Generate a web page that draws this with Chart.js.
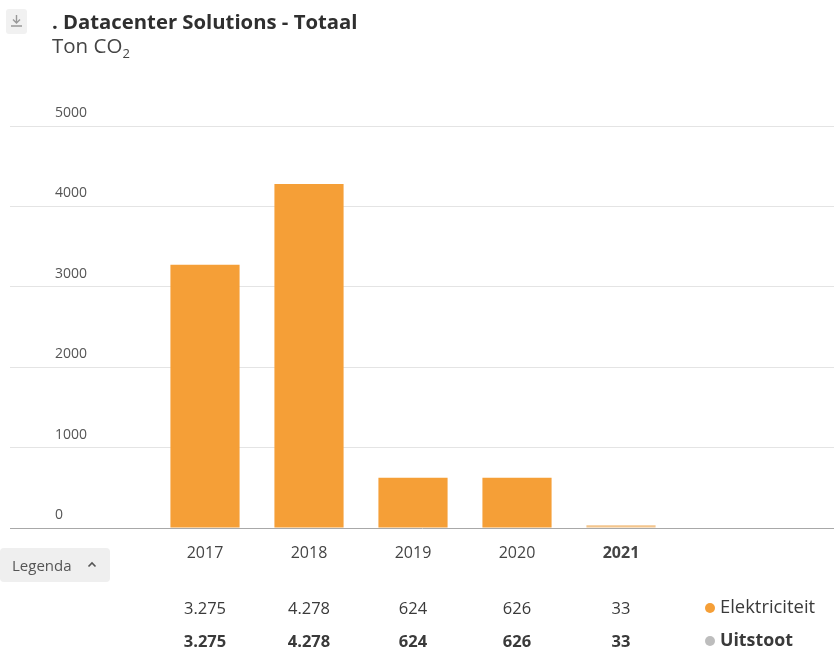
<!DOCTYPE html>
<html lang="nl">
<head>
<meta charset="utf-8">
<title>Datacenter Solutions - Totaal</title>
<script src="https://cdn.jsdelivr.net/npm/chart.js@4.4.1/dist/chart.umd.min.js"></script>
<style>
  html, body { margin: 0; padding: 0; background: #fff; }
  body { font-family: "Open Sans", "Noto Sans", sans-serif; color: #333; }
  #wrap { position: relative; width: 834px; height: 652px; overflow: hidden; }
  #co2Chart { position: absolute; left: 0; top: 0; }
  .download { position: absolute; left: 6px; top: 9px; width: 21px; height: 25px; background: #f1f1f1; border-radius: 3px; }
  .download svg { position: absolute; left: 4px; top: 5px; }
  .title { position: absolute; left: 52px; top: 7px; font-size: 20.3px; font-weight: bold; color: #2f2f2f; white-space: nowrap; }
  .subtitle { position: absolute; left: 52px; top: 31px; font-size: 20.5px; color: #444; white-space: nowrap; }
  .subtitle sub { font-size: 13px; }
  .legend-btn { position: absolute; left: 0; top: 548px; width: 110px; height: 34px; background: #efefef; border-radius: 4px; font-size: 15px; color: #555; line-height: 34px; }
  .legend-btn span { position: absolute; left: 12px; }
  .legend-btn svg { position: absolute; left: 87px; top: 13px; }
</style>
</head>
<body>
<div id="wrap">
  <canvas id="co2Chart" width="834" height="652"></canvas>
  <div class="download">
    <svg width="13" height="14" viewBox="0 0 13 14"><path d="M6.5 1 V9 M3 5.5 L6.5 9 L10 5.5 M1 12 H12" stroke="#999" stroke-width="1.4" fill="none"/></svg>
  </div>
  <div class="title">. Datacenter Solutions - Totaal</div>
  <div class="subtitle">Ton CO<sub>2</sub></div>
  <div class="legend-btn"><span>Legenda</span>
    <svg width="10" height="7" viewBox="0 0 10 7"><path d="M1.5 5.5 L5 2 L8.5 5.5" stroke="#555" stroke-width="1.6" fill="none"/></svg>
  </div>
</div>
<script>
// Jaren en uitstoot in ton CO2
const years = [2017, 2018, 2019, 2020, 2021];
const elektriciteit = [3275, 4278, 624, 626, 33];
const uitstoot = [3275, 4278, 624, 626, 33];
const yTicks = [0, 1000, 2000, 3000, 4000, 5000];
const currentYear = 2021;

const ORANGE = '#f59f37';
const ORANGE_LIGHT = '#f3c58c';
const FONT = '"Open Sans", "Noto Sans", sans-serif';

// thousands separator like the Dutch notation (3.275)
function formatNL(v) {
    return String(v).replace(/\B(?=(\d{3})+(?!\d))/g, '.');
}

// Draws the value table and the series labels under the x axis
const tablePlugin = {
    id: 'valueTable',
    afterDraw(chart) {
        const ctx = chart.ctx;
        const xScale = chart.scales.x;
        const rows = [
            { values: elektriciteit, label: 'Elektriciteit', dot: ORANGE, weight: 'normal', size: 18.4, y: 609 },
            { values: uitstoot, label: 'Uitstoot', dot: '#bdbdbd', weight: 'bold', size: 17.8, y: 642 }
        ];
        ctx.save();
        ctx.textBaseline = 'middle';
        rows.forEach(row => {
            ctx.font = `${row.weight} 16.5px ${FONT}`;
            ctx.fillStyle = '#3a3a3a';
            ctx.textAlign = 'center';
            years.forEach((year, i) => {
                ctx.fillText(formatNL(row.values[i]), xScale.getPixelForValue(year), row.y);
            });
            // legend dot + label
            ctx.beginPath();
            ctx.arc(710, row.y - 1, 5, 0, Math.PI * 2);
            ctx.fillStyle = row.dot;
            ctx.fill();
            ctx.font = `${row.weight} ${row.size}px ${FONT}`;
            ctx.fillStyle = '#3a3a3a';
            ctx.textAlign = 'left';
            ctx.fillText(row.label, 720, row.y - 1);
        });
        ctx.restore();
    }
};

const ctx = document.getElementById('co2Chart').getContext('2d');

new Chart(ctx, {
    type: 'bar',
    data: {
        datasets: [{
            label: 'Elektriciteit',
            data: years.map((year, i) => ({ x: year, y: elektriciteit[i] })),
            backgroundColor: years.map(year => year === currentYear ? ORANGE_LIGHT : ORANGE),
            borderWidth: 0,
            categoryPercentage: 1,
            barPercentage: 0.665
        }]
    },
    options: {
        responsive: false,
        animation: false,
        layout: {
            padding: { left: 10, right: 0, top: 126, bottom: 84 }
        },
        plugins: {
            legend: { display: false },
            tooltip: { enabled: false }
        },
        scales: {
            x: {
                type: 'linear',
                offset: false,
                min: 2015.125,
                max: 2023.048,
                afterBuildTicks: scale => {
                    scale.ticks = years.map(v => ({ value: v }));
                },
                afterFit: scale => {
                    scale.height = 40;
                },
                ticks: {
                    autoSkip: false,
                    maxRotation: 0,
                    padding: 16,
                    color: '#444',
                    font: c => ({
                        family: FONT,
                        size: 16,
                        weight: c.tick && c.tick.value === currentYear ? 'bold' : 'normal'
                    }),
                    callback: v => String(v)
                },
                grid: { display: false, drawTicks: false },
                border: { display: true, color: '#a8a8a8', width: 1 }
            },
            y: {
                min: 0,
                max: 5000,
                afterBuildTicks: scale => {
                    scale.ticks = yTicks.map(v => ({ value: v }));
                },
                // mirrored labels sit inside the plot, so the axis takes no width
                afterFit: scale => {
                    scale.width = 0;
                },
                ticks: {
                    mirror: true,
                    padding: 45,
                    labelOffset: -13,
                    color: '#555',
                    font: { family: FONT, size: 14 },
                    callback: v => String(v)
                },
                grid: {
                    drawTicks: false,
                    color: c => c.tick && c.tick.value === 0 ? 'rgba(0,0,0,0)' : '#e4e4e4'
                },
                border: { display: false }
            }
        }
    },
    plugins: [tablePlugin]
});
</script>
</body>
</html>
